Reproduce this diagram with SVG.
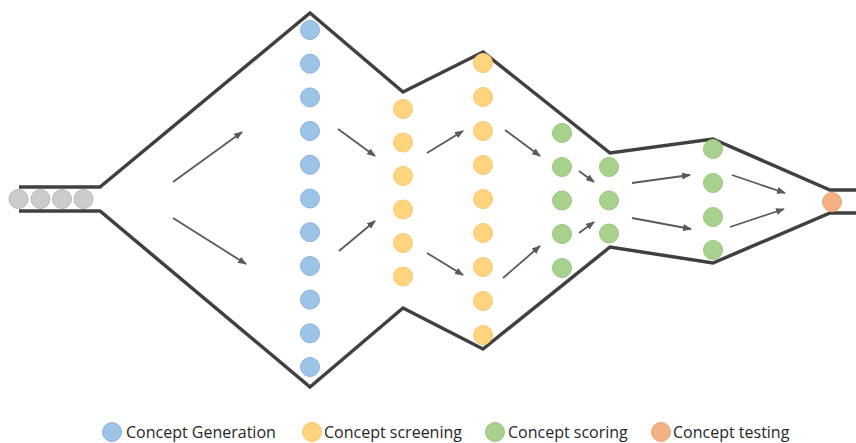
<svg xmlns="http://www.w3.org/2000/svg" width="856" height="443" viewBox="0 0 856 443">
<defs>
<style>
.outline{fill:none;stroke:#404040;stroke-width:3.5;stroke-linejoin:miter}
.b{fill:#9dc3e6;stroke:#8ab2de;stroke-width:1}
.y{fill:#ffd47f;stroke:#f5c96e;stroke-width:1}
.g{fill:#a9d18e;stroke:#98c47c;stroke-width:1}
.o{fill:#f4b183;stroke:#eba274;stroke-width:1}
.gr{fill:#cccccc;stroke:#b8b8b8;stroke-width:1}
.arr{stroke:#5a5a5a;stroke-width:1.8;fill:none;marker-end:url(#ah)}
.lg{font-family:"Open Sans","Liberation Sans",sans-serif;font-size:16px;fill:#262626}
</style>
<marker id="ah" markerWidth="9" markerHeight="7" refX="8" refY="3.5" orient="auto" markerUnits="userSpaceOnUse">
<path d="M0,0 L9,3.5 L0,7 Z" fill="#5a5a5a"/>
</marker>
</defs>
<rect width="856" height="443" fill="#ffffff"/>
<g id="funnel">
<path class="outline" d="M19,187 L100,187 L310,13 L403,92 L483,52 L610,153 L713,139 L830,190 L856,190"/>
<path class="outline" d="M19,211 L100,211 L310,387 L403,308 L483,349 L610,247 L713,263 L830,213 L856,213"/>
</g>
<g id="input">
<circle class="gr" cx="18.5" cy="199" r="9.5"/>
<circle class="gr" cx="40.5" cy="199" r="9.5"/>
<circle class="gr" cx="62" cy="199" r="9.5"/>
<circle class="gr" cx="83.5" cy="199" r="9.5"/>
</g>
<g id="generation">
<circle class="b" cx="310" cy="30" r="9.5"/>
<circle class="b" cx="310" cy="63.7" r="9.5"/>
<circle class="b" cx="310" cy="97.4" r="9.5"/>
<circle class="b" cx="310" cy="131" r="9.5"/>
<circle class="b" cx="310" cy="164.8" r="9.5"/>
<circle class="b" cx="310" cy="198.5" r="9.5"/>
<circle class="b" cx="310" cy="232.2" r="9.5"/>
<circle class="b" cx="310" cy="266" r="9.5"/>
<circle class="b" cx="310" cy="299.6" r="9.5"/>
<circle class="b" cx="310" cy="333.3" r="9.5"/>
<circle class="b" cx="310" cy="367" r="9.5"/>
</g>
<g id="screening1">
<circle class="y" cx="403" cy="109" r="9.5"/>
<circle class="y" cx="403" cy="142.5" r="9.5"/>
<circle class="y" cx="403" cy="176" r="9.5"/>
<circle class="y" cx="403" cy="209.5" r="9.5"/>
<circle class="y" cx="403" cy="243" r="9.5"/>
<circle class="y" cx="403" cy="276.5" r="9.5"/>
</g>
<g id="screening2">
<circle class="y" cx="483" cy="63" r="9.5"/>
<circle class="y" cx="483" cy="97" r="9.5"/>
<circle class="y" cx="483" cy="131" r="9.5"/>
<circle class="y" cx="483" cy="165" r="9.5"/>
<circle class="y" cx="483" cy="199" r="9.5"/>
<circle class="y" cx="483" cy="233" r="9.5"/>
<circle class="y" cx="483" cy="267" r="9.5"/>
<circle class="y" cx="483" cy="301" r="9.5"/>
<circle class="y" cx="483" cy="335" r="9.5"/>
</g>
<g id="scoring1">
<circle class="g" cx="562" cy="133" r="9.5"/>
<circle class="g" cx="562" cy="167" r="9.5"/>
<circle class="g" cx="562" cy="200.5" r="9.5"/>
<circle class="g" cx="562" cy="234" r="9.5"/>
<circle class="g" cx="562" cy="268" r="9.5"/>
</g>
<g id="scoring2">
<circle class="g" cx="609" cy="167" r="9.5"/>
<circle class="g" cx="609" cy="200.5" r="9.5"/>
<circle class="g" cx="609" cy="233.5" r="9.5"/>
</g>
<g id="scoring3">
<circle class="g" cx="713" cy="149" r="9.5"/>
<circle class="g" cx="713" cy="183" r="9.5"/>
<circle class="g" cx="713" cy="217" r="9.5"/>
<circle class="g" cx="713" cy="250" r="9.5"/>
</g>
<g id="testing">
<circle class="o" cx="832" cy="202" r="9.5"/>
</g>
<g id="connectors">
<line class="arr" x1="173" y1="182" x2="242" y2="132"/>
<line class="arr" x1="173" y1="218" x2="246" y2="264"/>
<line class="arr" x1="338" y1="129" x2="375" y2="156"/>
<line class="arr" x1="339" y1="251" x2="375" y2="221"/>
<line class="arr" x1="427" y1="153" x2="463" y2="131"/>
<line class="arr" x1="427" y1="253" x2="463" y2="275"/>
<line class="arr" x1="505" y1="130" x2="540" y2="156"/>
<line class="arr" x1="503" y1="278" x2="540" y2="246"/>
<line class="arr" x1="579" y1="171" x2="594" y2="182"/>
<line class="arr" x1="579" y1="233" x2="594" y2="222"/>
<line class="arr" x1="632" y1="183" x2="690" y2="175"/>
<line class="arr" x1="632" y1="218" x2="691" y2="229"/>
<line class="arr" x1="732" y1="175" x2="785" y2="193"/>
<line class="arr" x1="730" y1="227" x2="784" y2="209"/>
</g>
<g id="legend">
<circle class="b" cx="112" cy="432" r="9.5"/>
<text class="lg" x="126" y="438">Concept Generation</text>
<circle class="y" cx="312" cy="432" r="9.5"/>
<text class="lg" x="324" y="438">Concept screening</text>
<circle class="g" cx="495" cy="432" r="9.5"/>
<text class="lg" x="508" y="438">Concept scoring</text>
<circle class="o" cx="661" cy="432" r="9.5"/>
<text class="lg" x="673" y="438">Concept testing</text>
</g>
</svg>
